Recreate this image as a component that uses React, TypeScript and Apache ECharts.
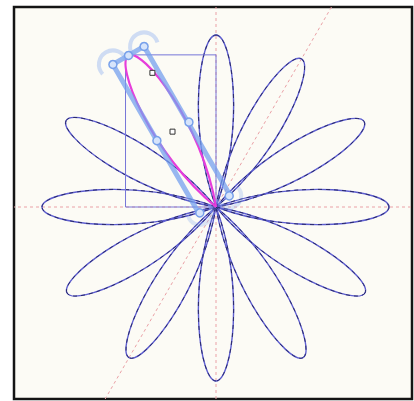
import React, { useEffect, useRef } from 'react';
import * as echarts from 'echarts';

// Petal directions (degrees, counter-clockwise from +x) and their lengths
const petalAngles = [0, 30, 60, 90, 120, 150, 180, 210, 240, 270, 300, 330];
const petalLengths = [173, 171, 171, 172, 175, 173, 174, 172, 174, 174, 174, 172];
// index of the petal being edited
const selectedIndex = 4;
// dotted guide lines through the centre (degrees)
const guideAngles = [0, 90, 60];
// editing handles of selected petal, in petal-local coords [along, across]
const handlePoints = [[175, 18], [175, 0], [175, -18], [87, 18], [87, -19], [3, 17], [3, -17]];
const handleLines = [
  [[175, 18], [4, 18]],
  [[175, -18], [4, -18]],
  [[175, 18], [175, -18]],
];
// halo rings: [along, across, outward(1)/inward(-1)]
const haloPoints = [[175, 18, 1], [175, -18, 1], [3, 17, -1], [3, -17, -1]];
const midMarkers = [[148, -12], [87, 0]];

const toData = (a: number, s: number, t: number) => {
  const c = Math.cos(a);
  const n = Math.sin(a);
  return [s * c - t * n, s * n + t * c];
};

const petalLocal = (L: number) => [
  [0, 0], [80, 30], [L, 16], [L, 0], [L, -16], [80, -30], [0, 0],
];

const bez = (p: number[][], style: any) => [
  {
    type: 'bezierCurve',
    shape: { x1: p[0][0], y1: p[0][1], cpx1: p[1][0], cpy1: p[1][1], cpx2: p[2][0], cpy2: p[2][1], x2: p[3][0], y2: p[3][1] },
    style: { ...style, fill: null },
    silent: true,
  },
  {
    type: 'bezierCurve',
    shape: { x1: p[3][0], y1: p[3][1], cpx1: p[4][0], cpy1: p[4][1], cpx2: p[5][0], cpy2: p[5][1], x2: p[6][0], y2: p[6][1] },
    style: { ...style, fill: null },
    silent: true,
  },
];

export default function App() {
  const ref = useRef<HTMLDivElement>(null);
  useEffect(() => {
    document.body.style.margin = '0';
    if (!ref.current) return;
    const chart = echarts.init(ref.current, undefined, { renderer: 'svg' });

    const petalData = petalAngles
      .map((a, i) => [a, petalLengths[i], i])
      .filter((d) => d[2] !== selectedIndex);

    chart.setOption({
      animation: false,
      backgroundColor: '#ffffff',
      grid: {
        show: true,
        left: 14,
        top: 7,
        width: 398,
        height: 392,
        backgroundColor: '#fcfbf5',
        borderColor: '#141414',
        borderWidth: 2.5,
      },
      xAxis: { type: 'value', min: -202, max: 196, show: false },
      yAxis: { type: 'value', min: -192, max: 200, show: false },
      series: [
        {
          type: 'custom',
          coordinateSystem: 'cartesian2d',
          clip: true,
          silent: true,
          data: guideAngles.map((a) => [a, 0]),
          renderItem: (params: any, api: any) => {
            const a = (api.value(0) * Math.PI) / 180;
            const p1 = api.coord(toData(a, -600, 0));
            const p2 = api.coord(toData(a, 600, 0));
            return {
              type: 'line',
              shape: { x1: p1[0], y1: p1[1], x2: p2[0], y2: p2[1] },
              style: { stroke: '#eaa1a6', lineWidth: 1, lineDash: [3, 3], fill: null },
              silent: true,
            };
          },
        },
        {
          type: 'custom',
          coordinateSystem: 'cartesian2d',
          clip: true,
          silent: true,
          data: petalData,
          renderItem: (params: any, api: any) => {
            const a = (api.value(0) * Math.PI) / 180;
            const L = api.value(1);
            const pts = petalLocal(L).map(([s, t]) => api.coord(toData(a, s, t)));
            return {
              type: 'group',
              children: [
                ...bez(pts, { stroke: '#5e5ed0', lineWidth: 1.4 }),
                ...bez(pts, { stroke: '#2a2a6c', lineWidth: 1, lineDash: [4, 4] }),
              ],
            };
          },
        },
        {
          type: 'custom',
          coordinateSystem: 'cartesian2d',
          clip: true,
          silent: true,
          data: [[petalAngles[selectedIndex], petalLengths[selectedIndex]]],
          renderItem: (params: any, api: any) => {
            const a = (api.value(0) * Math.PI) / 180;
            const L = api.value(1);
            const loc = petalLocal(L);
            const pts = loc.map(([s, t]) => api.coord(toData(a, s, t)));
            // bounding box by sampling the two bezier segments
            let minX = Infinity, minY = Infinity, maxX = -Infinity, maxY = -Infinity;
            const segs = [[pts[0], pts[1], pts[2], pts[3]], [pts[3], pts[4], pts[5], pts[6]]];
            segs.forEach((sg) => {
              for (let k = 0; k <= 60; k++) {
                const u = k / 60;
                const m = 1 - u;
                const x = m * m * m * sg[0][0] + 3 * m * m * u * sg[1][0] + 3 * m * u * u * sg[2][0] + u * u * u * sg[3][0];
                const y = m * m * m * sg[0][1] + 3 * m * m * u * sg[1][1] + 3 * m * u * u * sg[2][1] + u * u * u * sg[3][1];
                minX = Math.min(minX, x); maxX = Math.max(maxX, x);
                minY = Math.min(minY, y); maxY = Math.max(maxY, y);
              }
            });
            const children: any[] = [];
            children.push({
              type: 'rect',
              shape: { x: minX, y: minY, width: maxX - minX, height: maxY - minY },
              style: { fill: null, stroke: '#7676d8', lineWidth: 1 },
              silent: true,
            });
            children.push(...bez(pts, { stroke: '#e63ddb', lineWidth: 2.2 }));
            handleLines.forEach(([p, q]) => {
              const P = api.coord(toData(a, p[0], p[1]));
              const Q = api.coord(toData(a, q[0], q[1]));
              children.push({
                type: 'line',
                shape: { x1: P[0], y1: P[1], x2: Q[0], y2: Q[1] },
                style: { stroke: 'rgba(118,160,238,0.75)', lineWidth: 5, lineCap: 'round', fill: null },
                silent: true,
              });
            });
            const c0 = api.coord([0, 0]);
            const tip = api.coord(toData(a, 100, 0));
            const outAng = Math.atan2(tip[1] - c0[1], tip[0] - c0[0]);
            haloPoints.forEach(([s, t, dir]) => {
              const P = api.coord(toData(a, s, t));
              const base = dir > 0 ? outAng : outAng + Math.PI;
              children.push({
                type: 'arc',
                shape: { cx: P[0], cy: P[1], r: dir > 0 ? 14 : 12, startAngle: base - 1.8, endAngle: base + 1.8, clockwise: true },
                style: { stroke: dir > 0 ? 'rgba(140,175,240,0.4)' : 'rgba(140,175,240,0.3)', lineWidth: 4, fill: null },
                silent: true,
              });
            });
            handlePoints.forEach(([s, t]) => {
              const P = api.coord(toData(a, s, t));
              children.push({
                type: 'circle',
                shape: { cx: P[0], cy: P[1], r: 4 },
                style: { fill: '#d6e4fb', stroke: '#77a0ea', lineWidth: 1.5 },
                silent: true,
              });
            });
            midMarkers.forEach(([s, t]) => {
              const P = api.coord(toData(a, s, t));
              children.push({
                type: 'rect',
                shape: { x: P[0] - 2.5, y: P[1] - 2.5, width: 5, height: 5 },
                style: { fill: '#ffffff', stroke: '#333333', lineWidth: 1 },
                silent: true,
              });
            });
            return { type: 'group', children };
          },
        },
      ],
    });
    return () => chart.dispose();
  }, []);
  return <div ref={ref} style={{ width: 414, height: 401 }} />;
}
